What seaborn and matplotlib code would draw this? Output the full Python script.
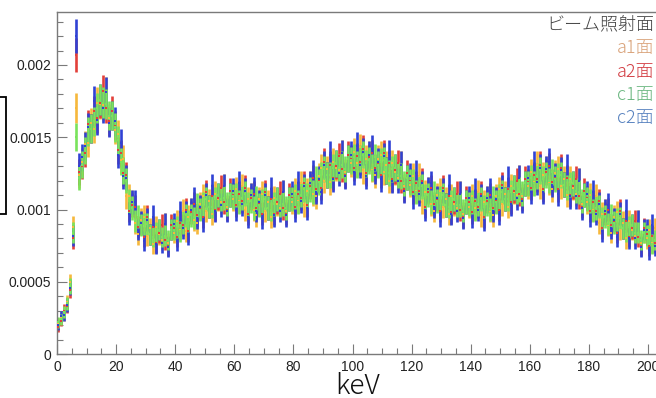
import numpy as np
import pandas as pd
import matplotlib
matplotlib.use("Agg")
import matplotlib.pyplot as plt
import seaborn as sns
from matplotlib.ticker import MultipleLocator, FixedLocator, FixedFormatter
from matplotlib.patches import Rectangle

# ---- data (1 keV bins, rates in units of 1e-5) ----
bin_low_kev = list(range(0, 203))
UNIT = 1e-5

a1 = [21, 25, 27, 36, 50, 88, 170, 124, 133, 145,
      146, 160, 156, 174, 173, 172, 181, 163, 165, 155,
      152, 134, 135, 109, 109, 105, 91, 83, 93, 95,
      82, 87, 76, 88, 83, 79, 90, 77, 86, 84,
      92, 86, 99, 85, 95, 100, 93, 91, 104, 109,
      99, 106, 97, 111, 107, 105, 116, 102, 110, 107,
      114, 106, 116, 100, 107, 110, 100, 96, 107, 111,
      99, 105, 95, 108, 104, 101, 112, 99, 107, 105,
      113, 106, 118, 103, 113, 118, 111, 109, 123, 129,
      120, 128, 119, 133, 129, 127, 139, 126, 135, 132,
      140, 132, 143, 127, 135, 138, 128, 124, 135, 138,
      126, 131, 120, 132, 126, 122, 131, 116, 122, 117,
      123, 113, 123, 105, 112, 114, 104, 99, 110, 113,
      102, 107, 97, 109, 104, 101, 111, 97, 105, 102,
      109, 101, 112, 96, 105, 108, 99, 96, 109, 114,
      104, 111, 102, 116, 112, 110, 122, 109, 118, 116,
      126, 119, 131, 116, 124, 128, 119, 114, 125, 128,
      116, 121, 110, 121, 115, 111, 120, 104, 110, 105,
      110, 100, 109, 91, 97, 99, 89, 84, 95, 98,
      86, 91, 80, 92, 86, 82, 92, 77, 84, 80,
      86, 77, 87]

a2 = [19, 23, 30, 33, 44, 80, 207, 126, 130, 139,
      159, 156, 168, 163, 174, 182, 170, 161, 168, 158,
      141, 139, 125, 124, 99, 103, 102, 88, 90, 81,
      95, 83, 88, 77, 84, 89, 79, 75, 89, 87,
      81, 91, 89, 100, 85, 98, 104, 96, 101, 95,
      112, 102, 109, 100, 108, 115, 105, 100, 113, 110,
      103, 111, 106, 115, 97, 108, 111, 101, 104, 97,
      112, 101, 107, 97, 105, 111, 101, 97, 110, 108,
      102, 111, 108, 118, 103, 116, 122, 114, 120, 115,
      133, 124, 131, 122, 130, 137, 128, 124, 138, 135,
      129, 137, 133, 142, 125, 136, 139, 129, 132, 124,
      139, 127, 132, 121, 127, 132, 120, 114, 125, 120,
      112, 118, 113, 120, 102, 112, 115, 104, 107, 99,
      115, 103, 109, 98, 105, 111, 100, 95, 108, 105,
      98, 106, 102, 111, 95, 106, 110, 101, 106, 100,
      117, 107, 114, 105, 113, 120, 111, 107, 121, 119,
      115, 124, 121, 131, 114, 126, 130, 119, 122, 114,
      129, 117, 122, 110, 116, 121, 109, 102, 113, 108,
      99, 105, 99, 106, 87, 97, 100, 89, 92, 84,
      99, 87, 92, 81, 87, 92, 81, 75, 87, 83,
      75, 82, 77]

c1 = [22, 24, 29, 35, 47, 84, 150, 122, 131, 141,
      154, 156, 161, 170, 176, 174, 173, 165, 165, 157,
      148, 133, 127, 120, 106, 101, 92, 95, 89, 90,
      90, 83, 81, 84, 86, 81, 82, 79, 86, 86,
      88, 85, 91, 96, 92, 96, 94, 103, 100, 104,
      107, 102, 102, 107, 110, 107, 108, 104, 110, 109,
      110, 105, 108, 111, 104, 106, 101, 108, 103, 106,
      107, 101, 100, 104, 107, 103, 104, 101, 107, 107,
      109, 105, 110, 114, 110, 114, 112, 121, 119, 124,
      128, 124, 124, 129, 132, 129, 131, 128, 135, 134,
      136, 131, 135, 138, 132, 134, 129, 136, 131, 133,
      134, 127, 125, 128, 129, 124, 123, 118, 122, 119,
      119, 112, 115, 116, 109, 110, 105, 111, 106, 108,
      110, 103, 102, 105, 107, 103, 103, 99, 105, 104,
      105, 100, 104, 107, 102, 104, 100, 108, 105, 109,
      112, 107, 107, 112, 115, 112, 114, 111, 118, 118,
      122, 118, 123, 127, 121, 124, 120, 126, 121, 123,
      124, 117, 115, 117, 118, 113, 112, 106, 110, 107,
      106, 99, 101, 102, 94, 95, 90, 96, 91, 93,
      94, 87, 85, 88, 89, 84, 84, 79, 84, 82,
      82, 76, 79]

c2 = [20, 26, 27, 34, 46, 82, 220, 130, 136, 144,
      157, 156, 175, 162, 176, 170, 181, 160, 165, 161,
      138, 146, 123, 122, 97, 105, 105, 86, 91, 78,
      93, 83, 95, 76, 86, 77, 90, 74, 86, 90,
      78, 98, 87, 98, 83, 100, 107, 94, 102, 92,
      110, 102, 116, 99, 110, 103, 116, 99, 110, 113,
      100, 118, 104, 113, 95, 110, 114, 99, 105, 94,
      110, 101, 114, 96, 107, 99, 112, 96, 107, 111,
      99, 118, 106, 116, 101, 118, 125, 112, 121, 112,
      131, 124, 138, 121, 132, 125, 139, 123, 135, 138,
      126, 144, 131, 140, 123, 138, 142, 127, 133, 121,
      137, 127, 139, 120, 129, 120, 131, 113, 122, 123,
      109, 125, 111, 118, 100, 114, 118, 102, 108, 96,
      113, 103, 116, 97, 107, 99, 111, 94, 105, 108,
      95, 113, 100, 109, 93, 108, 113, 99, 107, 97,
      115, 107, 121, 104, 115, 108, 122, 106, 118, 122,
      112, 131, 119, 129, 112, 128, 133, 117, 123, 111,
      127, 117, 129, 109, 118, 109, 120, 101, 110, 111,
      96, 112, 97, 104, 85, 99, 103, 87, 93, 81,
      97, 87, 99, 80, 89, 80, 92, 74, 86, 86,
      72, 89, 75]

series_names = ["a1面", "a2面", "c1面", "c2面"]
legend_title = "ビーム照射面"
x_label = "keV"
x_major_ticks = [0, 20, 40, 60, 80, 100, 120, 140, 160, 180, 200]
y_major_ticks = [0, 0.0005, 0.001, 0.0015, 0.002]
y_tick_labels = ["0", "0.0005", "0.001", "0.0015", "0.002"]

bar_colors = {"a1面": "#f6b83c", "a2面": "#e2403a", "c1面": "#7ae35c", "c2面": "#3042d4"}
text_colors = {"a1面": "#d9a279", "a2面": "#d23a40", "c1面": "#69b67f", "c2面": "#5580be"}

# ---- long table ----
rows = []
for name, vals in zip(series_names, [a1, a2, c1, c2]):
    for lo, v in zip(bin_low_kev, vals):
        y = v * UNIT
        err = 0.8 * np.sqrt(v) * UNIT  # Poisson-like statistical error
        rows.append({"keV": lo + 0.5, "rate": y, "err": err, "face": name})
df = pd.DataFrame(rows)
df["lo"] = df["rate"] - df["err"]
df["hi"] = df["rate"] + df["err"]

sns.set_theme(style="white")
plt.rcParams["font.family"] = ["Liberation Sans", "Noto Sans CJK JP", "DejaVu Sans"]

W, H = 656, 398
fig = plt.figure(figsize=(W / 100, H / 100), dpi=100)
ax = fig.add_axes([57 / W, 1 - 354 / H, 1 - 57 / W, (354 - 12) / H])

draw_order = ["a1面", "a2面", "c2面", "c1面"]
for name in draw_order:
    sub = df[df["face"] == name]
    ax.vlines(sub["keV"], sub["lo"], sub["hi"], color=bar_colors[name], lw=1.9, zorder=2)
    sns.scatterplot(data=sub, x="keV", y="rate", color=bar_colors[name], s=2,
                    marker="s", linewidth=0, ax=ax, legend=False, zorder=3)

ax.set_xlim(0, (W - 57) / 2.955)
ax.set_ylim(0, 0.001 * (354 - 12) / 144.5)

ax.xaxis.set_major_locator(FixedLocator(x_major_ticks))
ax.xaxis.set_minor_locator(MultipleLocator(5))
ax.yaxis.set_major_locator(FixedLocator(y_major_ticks))
ax.yaxis.set_major_formatter(FixedFormatter(y_tick_labels))
ax.yaxis.set_minor_locator(MultipleLocator(0.0001))

spine_col = "#7a7a7a"
for s in ["left", "bottom", "top"]:
    ax.spines[s].set_color(spine_col)
    ax.spines[s].set_linewidth(1.0)
ax.spines["right"].set_visible(False)

ax.tick_params(axis="both", which="major", direction="in", length=7.5, width=0.8,
               color=spine_col, labelsize=10, labelcolor="#222222", pad=4)
ax.tick_params(axis="both", which="minor", direction="in", length=4, width=0.8,
               color=spine_col)
ax.tick_params(axis="x", which="both", top=False, bottom=True)
ax.tick_params(axis="y", which="both", left=True, right=False)
ax.set_xlabel("")
ax.set_ylabel("")

# x label
fig.text(358 / W, 1 - 394 / H, x_label, fontsize=20, ha="center", va="baseline",
         family=["Noto Sans CJK JP", "DejaVu Sans"], color="#111111", fontweight="light")

# legend as coloured text
ys = [24.5, 48.5, 72, 95, 118]
fig.text(654 / W, 1 - ys[0] / H, legend_title, fontsize=13, ha="right", va="center",
         family=["Noto Sans CJK JP", "DejaVu Sans"], color="#444444", fontweight="light")
for name, yp in zip(series_names, ys[1:]):
    fig.text(654 / W, 1 - yp / H, name, fontsize=13, ha="right", va="center",
             family=["Noto Sans CJK JP", "DejaVu Sans"], color=text_colors[name],
             fontweight="light")

# partial frame at left edge (cropped element)
fig.patches.append(Rectangle((-0.02, 1 - 214 / H), 0.02 + 6 / W, (214 - 97) / H,
                             transform=fig.transFigure, fill=False, lw=1.3,
                             ec="black", figure=fig))

fig.savefig("out.png", dpi=100)
